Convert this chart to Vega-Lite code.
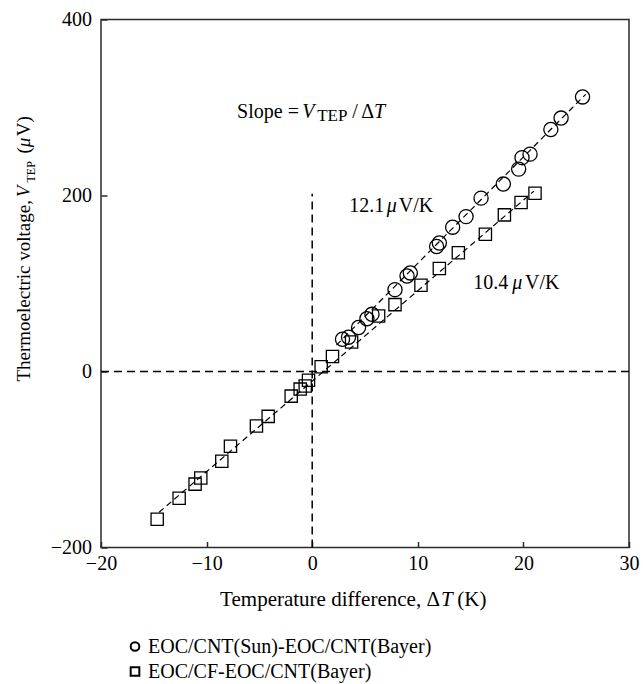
{
  "$schema": "https://vega.github.io/schema/vega-lite/v6.json",
  "width": 528,
  "height": 528,
  "autosize": {"type": "none"},
  "padding": {"left": 101, "top": 19.5, "right": 14, "bottom": 136.5},
  "background": "white",
  "config": {
    "view": {"stroke": "#2a2a2a", "strokeWidth": 1.5},
    "font": "Liberation Serif",
    "axis": {
      "grid": false,
      "domain": false,
      "labelFont": "Liberation Serif",
      "labelFontSize": 20,
      "labelColor": "black",
      "tickColor": "#2a2a2a",
      "tickWidth": 1.5,
      "tickSize": -6,
      "title": null
    },
    "legend": {
      "labelFont": "Liberation Serif",
      "labelFontSize": 20,
      "labelColor": "black",
      "labelLimit": 500
    }
  },
  "datasets": {
    "points": [
      {"series": "EOC/CNT(Sun)-EOC/CNT(Bayer)", "x": 2.87, "y": 36.6},
      {"series": "EOC/CNT(Sun)-EOC/CNT(Bayer)", "x": 3.44, "y": 39},
      {"series": "EOC/CNT(Sun)-EOC/CNT(Bayer)", "x": 4.39, "y": 50},
      {"series": "EOC/CNT(Sun)-EOC/CNT(Bayer)", "x": 5.18, "y": 60},
      {"series": "EOC/CNT(Sun)-EOC/CNT(Bayer)", "x": 5.66, "y": 65},
      {"series": "EOC/CNT(Sun)-EOC/CNT(Bayer)", "x": 7.84, "y": 93},
      {"series": "EOC/CNT(Sun)-EOC/CNT(Bayer)", "x": 8.98, "y": 108.5},
      {"series": "EOC/CNT(Sun)-EOC/CNT(Bayer)", "x": 9.29, "y": 112},
      {"series": "EOC/CNT(Sun)-EOC/CNT(Bayer)", "x": 11.78, "y": 142},
      {"series": "EOC/CNT(Sun)-EOC/CNT(Bayer)", "x": 12.04, "y": 146},
      {"series": "EOC/CNT(Sun)-EOC/CNT(Bayer)", "x": 13.3, "y": 164},
      {"series": "EOC/CNT(Sun)-EOC/CNT(Bayer)", "x": 14.57, "y": 176},
      {"series": "EOC/CNT(Sun)-EOC/CNT(Bayer)", "x": 15.99, "y": 197},
      {"series": "EOC/CNT(Sun)-EOC/CNT(Bayer)", "x": 18.1, "y": 213},
      {"series": "EOC/CNT(Sun)-EOC/CNT(Bayer)", "x": 19.55, "y": 230},
      {"series": "EOC/CNT(Sun)-EOC/CNT(Bayer)", "x": 19.87, "y": 243},
      {"series": "EOC/CNT(Sun)-EOC/CNT(Bayer)", "x": 20.63, "y": 247},
      {"series": "EOC/CNT(Sun)-EOC/CNT(Bayer)", "x": 22.6, "y": 275},
      {"series": "EOC/CNT(Sun)-EOC/CNT(Bayer)", "x": 23.57, "y": 288},
      {"series": "EOC/CNT(Sun)-EOC/CNT(Bayer)", "x": 25.6, "y": 312},
      {"series": "EOC/CF-EOC/CNT(Bayer)", "x": -14.68, "y": -168},
      {"series": "EOC/CF-EOC/CNT(Bayer)", "x": -12.6, "y": -144},
      {"series": "EOC/CF-EOC/CNT(Bayer)", "x": -11.09, "y": -128},
      {"series": "EOC/CF-EOC/CNT(Bayer)", "x": -10.55, "y": -121},
      {"series": "EOC/CF-EOC/CNT(Bayer)", "x": -8.56, "y": -102},
      {"series": "EOC/CF-EOC/CNT(Bayer)", "x": -7.74, "y": -85},
      {"series": "EOC/CF-EOC/CNT(Bayer)", "x": -5.28, "y": -62},
      {"series": "EOC/CF-EOC/CNT(Bayer)", "x": -4.17, "y": -51},
      {"series": "EOC/CF-EOC/CNT(Bayer)", "x": -1.99, "y": -28},
      {"series": "EOC/CF-EOC/CNT(Bayer)", "x": -1.14, "y": -20},
      {"series": "EOC/CF-EOC/CNT(Bayer)", "x": -0.66, "y": -16.5},
      {"series": "EOC/CF-EOC/CNT(Bayer)", "x": -0.35, "y": -10},
      {"series": "EOC/CF-EOC/CNT(Bayer)", "x": 0.85, "y": 5.5},
      {"series": "EOC/CF-EOC/CNT(Bayer)", "x": 1.92, "y": 17},
      {"series": "EOC/CF-EOC/CNT(Bayer)", "x": 3.73, "y": 33.5},
      {"series": "EOC/CF-EOC/CNT(Bayer)", "x": 6.29, "y": 63},
      {"series": "EOC/CF-EOC/CNT(Bayer)", "x": 7.84, "y": 76},
      {"series": "EOC/CF-EOC/CNT(Bayer)", "x": 10.3, "y": 98},
      {"series": "EOC/CF-EOC/CNT(Bayer)", "x": 12.04, "y": 117},
      {"series": "EOC/CF-EOC/CNT(Bayer)", "x": 13.84, "y": 135},
      {"series": "EOC/CF-EOC/CNT(Bayer)", "x": 16.4, "y": 156},
      {"series": "EOC/CF-EOC/CNT(Bayer)", "x": 18.2, "y": 178},
      {"series": "EOC/CF-EOC/CNT(Bayer)", "x": 19.78, "y": 192},
      {"series": "EOC/CF-EOC/CNT(Bayer)", "x": 21.1, "y": 202.5}
    ],
    "fits": [
      {"series": "Sun", "x": 2.3, "y": 30},
      {"series": "Sun", "x": 25.9, "y": 315},
      {"series": "CF", "x": -14.5, "y": -160},
      {"series": "CF", "x": 21.0, "y": 205}
    ],
    "vref": [{"x": 0, "y": -200, "y2": 202}],
    "href": [{"x": -20, "x2": 30, "y": 0}],
    "textRegular": [
      {"t": "Slope = ", "x": -7.11, "y": 288.6},
      {"t": "/", "x": 3.79, "y": 288.6},
      {"t": "Δ", "x": 4.65, "y": 288.6},
      {"t": "12.1", "x": 3.51, "y": 181},
      {"t": "V/K", "x": 8.2, "y": 181},
      {"t": "10.4", "x": 15.26, "y": 94},
      {"t": "V/K", "x": 20.15, "y": 94}
    ],
    "textItalic": [
      {"t": "V", "x": -0.95, "y": 288.6},
      {"t": "T", "x": 5.85, "y": 288.6},
      {"t": "μ", "x": 7.05, "y": 181},
      {"t": "μ", "x": 18.95, "y": 94}
    ],
    "textSub": [
      {"t": "TEP", "x": 0.47, "y": 284.1}
    ],
    "xTitleRegular": [
      {"t": "Temperature difference, Δ", "x": -8.72, "y": -266},
      {"t": "(K)", "x": 13.74, "y": -266}
    ],
    "xTitleItalic": [
      {"t": "T", "x": 12.2, "y": -266}
    ],
    "yTitleRegular": [
      {"t": "Thermoelectric voltage,", "x": -26.73, "y": -11.4},
      {"t": "(", "x": -26.73, "y": 247.7},
      {"t": "V)", "x": -26.73, "y": 267.4}
    ],
    "yTitleItalic": [
      {"t": "V", "x": -26.73, "y": 198},
      {"t": "μ", "x": -26.73, "y": 254.9}
    ],
    "yTitleSub": [
      {"t": "TEP", "x": -26.26, "y": 214.8}
    ]
  },
  "encoding": {
    "x": {
      "field": "x",
      "type": "quantitative",
      "scale": {"domain": [-20, 30], "nice": false, "zero": false},
      "axis": {"values": [-20, -10, 0, 10, 20, 30], "labelPadding": 12, "labelFlush": false}
    },
    "y": {
      "field": "y",
      "type": "quantitative",
      "scale": {"domain": [-200, 400], "nice": false, "zero": false},
      "axis": {"values": [-200, 0, 200, 400], "labelPadding": 15.5, "labelFlush": false}
    }
  },
  "layer": [
    {
      "data": {"name": "vref"},
      "mark": {"type": "rule", "color": "black", "strokeWidth": 1.5, "strokeDash": [8, 5]},
      "encoding": {"y2": {"field": "y2"}}
    },
    {
      "data": {"name": "href"},
      "mark": {"type": "rule", "color": "black", "strokeWidth": 1.5, "strokeDash": [8, 5]},
      "encoding": {"x2": {"field": "x2"}}
    },
    {
      "data": {"name": "fits"},
      "mark": {"type": "line", "color": "black", "strokeWidth": 1.2, "strokeDash": [6, 4]},
      "encoding": {"detail": {"field": "series"}}
    },
    {
      "data": {"name": "points"},
      "transform": [{"filter": "datum.series === 'EOC/CNT(Sun)-EOC/CNT(Bayer)'"}],
      "mark": {"type": "point", "filled": false, "stroke": "black", "strokeWidth": 1.3, "opacity": 1},
      "encoding": {
        "size": {"value": 200},
        "shape": {
          "field": "series",
          "type": "nominal",
          "scale": {"domain": ["EOC/CNT(Sun)-EOC/CNT(Bayer)", "EOC/CF-EOC/CNT(Bayer)"], "range": ["circle", "square"]},
          "legend": {
            "title": null,
            "orient": "none",
            "legendX": 24,
            "legendY": 617,
            "padding": 0,
            "symbolSize": 75,
            "symbolStrokeWidth": 2,
            "symbolStrokeColor": "black",
            "symbolFillColor": "transparent",
            "rowPadding": 5,
            "labelOffset": 3
          }
        }
      }
    },
    {
      "data": {"name": "points"},
      "transform": [{"filter": "datum.series === 'EOC/CF-EOC/CNT(Bayer)'"}],
      "mark": {"type": "point", "filled": false, "stroke": "black", "strokeWidth": 1.3, "opacity": 1},
      "encoding": {
        "size": {"value": 150},
        "shape": {"field": "series", "type": "nominal"}
      }
    },
    {
      "data": {"name": "textRegular"},
      "mark": {"type": "text", "align": "left", "baseline": "alphabetic", "fontSize": 20, "font": "Liberation Serif", "color": "black"},
      "encoding": {"text": {"field": "t"}}
    },
    {
      "data": {"name": "textItalic"},
      "mark": {"type": "text", "align": "left", "baseline": "alphabetic", "fontSize": 20, "font": "Liberation Serif", "fontStyle": "italic", "color": "black"},
      "encoding": {"text": {"field": "t"}}
    },
    {
      "data": {"name": "textSub"},
      "mark": {"type": "text", "align": "left", "baseline": "alphabetic", "fontSize": 17, "font": "Liberation Serif", "color": "black"},
      "encoding": {"text": {"field": "t"}}
    },
    {
      "data": {"name": "xTitleRegular"},
      "mark": {"type": "text", "align": "left", "baseline": "alphabetic", "fontSize": 21, "font": "Liberation Serif", "color": "black"},
      "encoding": {"text": {"field": "t"}}
    },
    {
      "data": {"name": "xTitleItalic"},
      "mark": {"type": "text", "align": "left", "baseline": "alphabetic", "fontSize": 21, "font": "Liberation Serif", "fontStyle": "italic", "color": "black"},
      "encoding": {"text": {"field": "t"}}
    },
    {
      "data": {"name": "yTitleRegular"},
      "mark": {"type": "text", "align": "left", "baseline": "alphabetic", "angle": 270, "fontSize": 19, "font": "Liberation Serif", "color": "black"},
      "encoding": {"text": {"field": "t"}}
    },
    {
      "data": {"name": "yTitleItalic"},
      "mark": {"type": "text", "align": "left", "baseline": "alphabetic", "angle": 270, "fontSize": 19, "font": "Liberation Serif", "fontStyle": "italic", "color": "black"},
      "encoding": {"text": {"field": "t"}}
    },
    {
      "data": {"name": "yTitleSub"},
      "mark": {"type": "text", "align": "left", "baseline": "alphabetic", "angle": 270, "fontSize": 12, "font": "Liberation Serif", "color": "black"},
      "encoding": {"text": {"field": "t"}}
    }
  ]
}
